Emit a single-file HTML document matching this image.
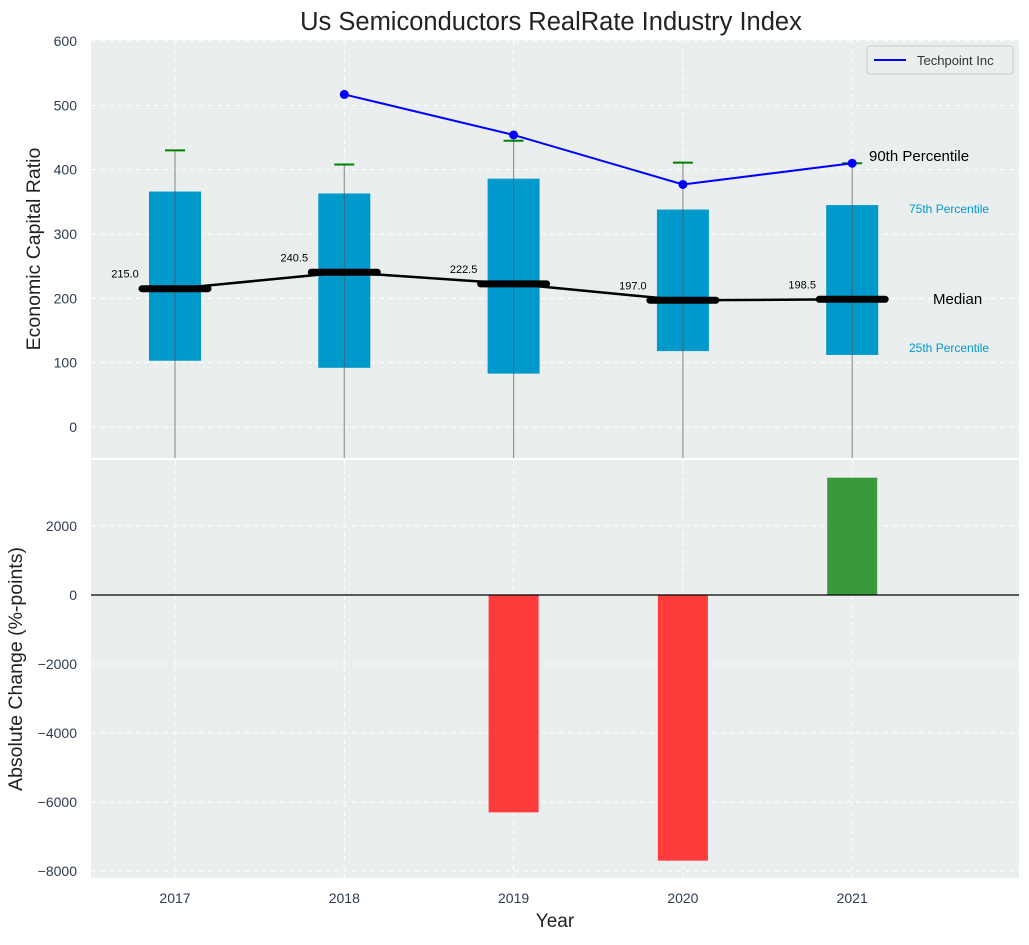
<!DOCTYPE html>
<html><head><meta charset="utf-8"><style>
body{margin:0;background:#fff;font-family:"Liberation Sans","DejaVu Sans",sans-serif}
</style></head><body>
<svg id="c" width="1029" height="940" xmlns="http://www.w3.org/2000/svg"></svg>
<script>
const years=[2017,2018,2019,2020,2021];
const q1=[103,92,83,118,112];
const q3=[366,363,386,338,345];
const medians=[215.0,240.5,222.5,197.0,198.5];
const p90=[430,408,445,411,410];
const techYears=[2018,2019,2020,2021];
const techVals=[517,454,377,410];
const changes=[0,0,-6300,-7700,3400];
const topTicks=[0,100,200,300,400,500,600];
const botTicks=[-8000,-6000,-4000,-2000,0,2000];

const NS="http://www.w3.org/2000/svg";
const svg=document.getElementById('c');
function el(t,a,p){const e=document.createElementNS(NS,t);for(const k in a)e.setAttribute(k,a[k]);(p||svg).appendChild(e);return e;}
const L=91,R=1019;
const X=i=>175+i*169.3;
const Yt=v=>427-v*0.6433;
const Yb=v=>595-v*0.0345;
const T1=40,B1=458,T2=460,B2=878;
const TC='#2e3b4e';

let r=el('rect',{x:L,y:T1,width:R-L,height:B1-T1,fill:'#eaeeef'});

r=el('rect',{x:L,y:T2,width:R-L,height:B2-T2,fill:'#eaeeef'});


const g=el('g',{});

years.forEach((y,i)=>{el('line',{x1:X(i),x2:X(i),y1:T1,y2:B1,stroke:'#fff','stroke-dasharray':'5,4'},g);el('line',{x1:X(i),x2:X(i),y1:T2,y2:B2,stroke:'#fff','stroke-dasharray':'5,4'},g);});
topTicks.forEach(v=>{el('line',{x1:L,x2:R,y1:Yt(v),y2:Yt(v),stroke:'#fff','stroke-dasharray':'5,4'},g);
 const t=el('text',{x:L-14,y:Yt(v)+5,'text-anchor':'end','font-size':14,fill:TC});t.textContent=v;
 });
botTicks.forEach(v=>{el('line',{x1:L,x2:R,y1:Yb(v),y2:Yb(v),stroke:'#fff','stroke-dasharray':'5,4'},g);
 const t=el('text',{x:L-14,y:Yb(v)+5,'text-anchor':'end','font-size':14,fill:TC});t.textContent=v<0?'\u2212'+(-v):v;
 });
years.forEach((y,i)=>{const t=el('text',{x:X(i),y:903,'text-anchor':'middle','font-size':14,fill:TC});t.textContent=y;
 });

years.forEach((y,i)=>{
 const b=el('rect',{x:X(i)-26,y:Yt(q3[i]),width:52,height:Yt(q1[i])-Yt(q3[i]),fill:'#0099cc'});
 
 const w=el('line',{x1:X(i),x2:X(i),y1:Yt(p90[i]),y2:B1,stroke:'#555','stroke-opacity':0.6,'stroke-width':1.2});
 
 const c=el('line',{x1:X(i)-10,x2:X(i)+10,y1:Yt(p90[i]),y2:Yt(p90[i]),stroke:'#008000','stroke-width':2});
 
});
const ml=el('polyline',{points:medians.map((m,i)=>X(i)+','+Yt(m)).join(' '),fill:'none',stroke:'#000','stroke-width':2.5});

medians.forEach((m,i)=>{
 const s=el('line',{x1:X(i)-33,x2:X(i)+33,y1:Yt(m),y2:Yt(m),stroke:'#000','stroke-width':7,'stroke-linecap':'round'});
 
 const t=el('text',{x:X(i)-50,y:Yt(m)-11,'text-anchor':'middle','font-size':11,fill:'#000'});t.textContent=m.toFixed(1);
 
});
const tl=el('polyline',{points:techVals.map((v,i)=>X(years.indexOf(techYears[i]))+','+Yt(v)).join(' '),fill:'none',stroke:'#0000ff','stroke-width':2});

techVals.forEach((v,i)=>{const c=el('circle',{cx:X(years.indexOf(techYears[i])),cy:Yt(v),r:4.5,fill:'#0000ff'});
 });
[['90th Percentile',869,161,15,'#000','annotation-90th'],['75th Percentile',909,213,12,'#0099cc','annotation-75th'],['Median',933,304,15,'#000','annotation-median'],['25th Percentile',909,352,12,'#0099cc','annotation-25th']].forEach(a=>{
 const t=el('text',{x:a[1],y:a[2],'font-size':a[3],fill:a[4]});t.textContent=a[0];
 });
const lg=el('g',{});
el('rect',{x:867,y:46,width:146,height:28,rx:3,fill:'#eaeeef',stroke:'#ccc'},lg);
el('line',{x1:874,x2:906,y1:60,y2:60,stroke:'#0000ff','stroke-width':2},lg);
const lt=el('text',{x:917,y:65,'font-size':13,fill:'#333'},lg);lt.textContent='Techpoint Inc';
changes.forEach((v,i)=>{if(!v)return;
 const b=el('rect',{x:X(i)-25,y:Math.min(Yb(v),Yb(0)),width:50,height:Math.abs(Yb(v)-Yb(0)),fill:v<0?'#ff3c3c':'#3a9a3a'});
 });
const zl=el('line',{x1:L,x2:R,y1:Yb(0),y2:Yb(0),stroke:'#000','stroke-width':1.2});

let t=el('text',{x:551,y:30,'text-anchor':'middle','font-size':25.5,fill:'#222'});t.textContent='Us Semiconductors RealRate Industry Index';

t=el('text',{x:555,y:927,'text-anchor':'middle','font-size':19,fill:'#222'});t.textContent='Year';

t=el('text',{x:40,y:249,'text-anchor':'middle','font-size':19.5,fill:'#222',transform:'rotate(-90 40 249)'});t.textContent='Economic Capital Ratio';

t=el('text',{x:22,y:669,'text-anchor':'middle','font-size':19.5,fill:'#222',transform:'rotate(-90 22 669)'});t.textContent='Absolute Change (%-points)';

</script>
</body></html>
